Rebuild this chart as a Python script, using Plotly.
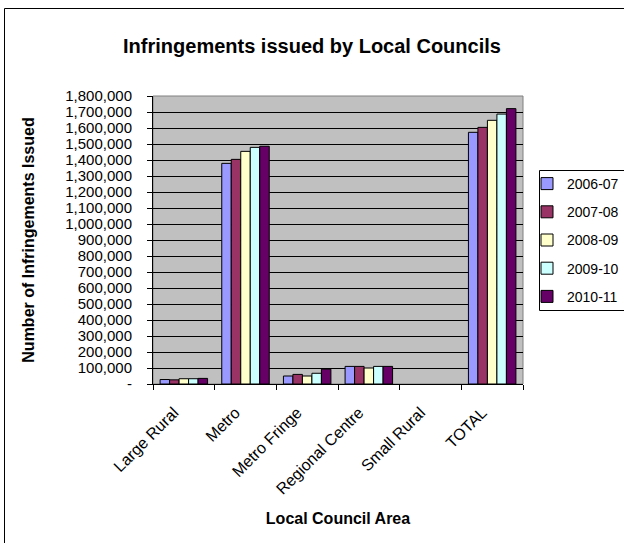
import plotly.graph_objects as go

categories = ["Large Rural", "Metro", "Metro Fringe", "Regional Centre", "Small Rural", "TOTAL"]
years = ["2006-07", "2007-08", "2008-09", "2009-10", "2010-11"]
v_2006_07 = [28000, 1379000, 50000, 110000, None, 1573000]
v_2007_08 = [26000, 1404000, 60000, 110000, None, 1604000]
v_2008_09 = [33000, 1454000, 50000, 100000, None, 1648000]
v_2009_10 = [33000, 1479000, 67000, 110000, None, 1687000]
v_2010_11 = [35000, 1486000, 93000, 110000, None, 1721000]
series = [v_2006_07, v_2007_08, v_2008_09, v_2009_10, v_2010_11]
colors = ["#9999FF", "#993366", "#FFFFCC", "#CCFFFF", "#660066"]

tick_vals = list(range(0, 1800001, 100000))
tick_text = ["-"] + [f"{v:,}" for v in tick_vals[1:]]

W, H = 624, 543
L, R, T, B = 153, 523, 96, 384
FONT = "Liberation Sans, Arial, sans-serif"

fig = go.Figure()
for name, vals, c in zip(years, series, colors):
    fig.add_trace(go.Bar(
        x=categories, y=vals, name=name, legendgroup=name,
        marker=dict(color=c, line=dict(color="black", width=1)),
    ))

def px2x(px):
    return (px - L) / (R - L)

def px2y(py):
    return (B - py) / (B - T)

fig.update_layout(
    width=W, height=H,
    margin=dict(l=L, r=W - R, t=T, b=H - B, autoexpand=False),
    paper_bgcolor="white",
    plot_bgcolor="#C0C0C0",
    font=dict(family=FONT, size=15, color="black"),
    barmode="group", bargap=0.23, bargroupgap=0,
    title=dict(text="<b>Infringements issued by Local Councils</b>",
               font=dict(size=20), x=0.5, xref="container", xanchor="center",
               y=1 - 46 / H, yref="container", yanchor="middle"),
    legend=dict(x=px2x(527), y=px2y(168), xanchor="left", yanchor="top",
                borderwidth=0, bgcolor="rgba(0,0,0,0)",
                font=dict(size=14), tracegroupgap=7, traceorder="grouped",
                itemwidth=30),
    xaxis=dict(
        tickson="boundaries", ticks="outside", ticklen=5, tickcolor="black",
        tickangle=-45, tickfont=dict(size=16), ticklabelstandoff=12,
        ticklabelshift=-10,
        showline=True, linecolor="black", linewidth=1,
        showgrid=False,
        title=dict(text="<b>Local Council Area</b>", font=dict(size=16), standoff=16),
    ),
    yaxis=dict(
        range=[0, 1800000], tickvals=tick_vals, ticktext=tick_text,
        ticks="outside", ticklen=5, tickcolor="black", ticklabelstandoff=12,
        showline=True, linecolor="black", linewidth=1,
        showgrid=True, gridcolor="black", gridwidth=1, zeroline=False,
        title=dict(text="<b>Number of Infringements Issued</b>", font=dict(size=16), standoff=26),
    ),
    shapes=[
        dict(type="rect", xref="paper", yref="paper",
             x0=px2x(4.5), x1=px2x(700), y0=px2y(700), y1=px2y(8.5),
             line=dict(color="black", width=1), fillcolor="rgba(0,0,0,0)", layer="below"),
        dict(type="rect", xref="paper", yref="paper",
             x0=px2x(539.5), x1=px2x(700), y0=px2y(310.5), y1=px2y(170.5),
             line=dict(color="black", width=1), fillcolor="white", layer="below"),
        dict(type="rect", xref="paper", yref="paper", x0=0, x1=1, y0=0, y1=1,
             line=dict(color="#808080", width=1), fillcolor="rgba(0,0,0,0)", layer="below"),
    ],
)

fig.write_html("out.html", config={"displayModeBar": False},
               post_script="document.body.style.margin='0';document.body.style.overflow='hidden';")
